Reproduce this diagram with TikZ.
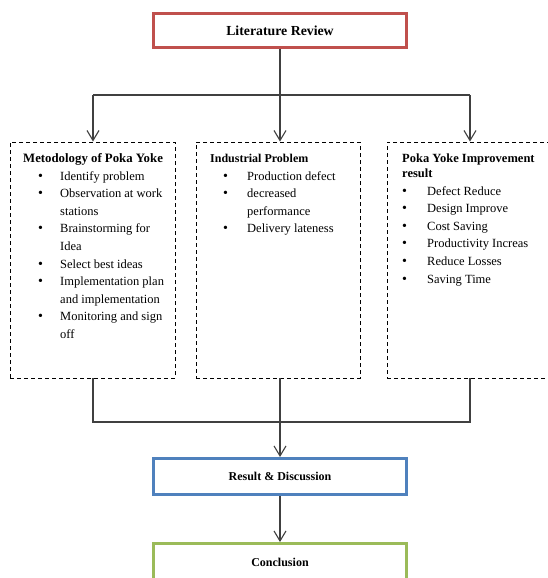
\documentclass[tikz,border=0pt]{standalone}
\usepackage{fontspec}
\setmainfont{Liberation Serif}
\usetikzlibrary{arrows.meta}
\definecolor{litred}{RGB}{192,80,77}
\definecolor{resblue}{RGB}{79,129,189}
\definecolor{congreen}{RGB}{155,187,89}
\definecolor{linegray}{RGB}{64,64,64}
\newcommand\mybul{{\fontsize{14}{14}\selectfont\textbullet}}
\tikzset{
  mainbox/.style={draw, line width=3pt, minimum width=253pt, inner sep=0pt, font=\fontsize{12}{14}\selectfont\bfseries},
  dashbox/.style={draw=black, line width=0.9pt, dash pattern=on 4pt off 3pt, minimum height=236pt, inner sep=0pt},
  content/.style={anchor=north west, inner sep=0pt, align=left, font=\fontsize{12.5}{17.6}\selectfont},
  conn/.style={draw=linegray, line width=1.1pt},
  arr/.style={conn, -{Straight Barb[length=10pt,width=12pt,line width=1.1pt]}}
}
\begin{document}
\begin{tikzpicture}[x=1pt,y=-1pt]
\useasboundingbox (0,0) rectangle (548,578);
\clip (0,0) rectangle (548,578);
\fill[white] (0,0) rectangle (548,578);

\node[mainbox, draw=litred, minimum height=34pt, font=\fontsize{13.8}{15}\selectfont\bfseries] (lit) at (280,30.5) {Literature Review};

\node[dashbox, minimum width=165pt] (bleft) at (92.5,260) {};
\node[dashbox, minimum width=164pt] (bmid) at (278,260) {};
\node[dashbox, minimum width=174pt] (bright) at (474,260) {};

\node[content] (tleft) at (23,150) {%
\begin{tabular}{@{}p{37pt}@{}l@{}}
\multicolumn{2}{@{}l@{}}{\fontsize{12.8}{17.6}\selectfont\bfseries Metodology of Poka Yoke}\\
\hspace*{15pt}\mybul & Identify problem\\
\hspace*{15pt}\mybul & Observation at work\\
 & stations\\
\hspace*{15pt}\mybul & Brainstorming for\\
 & Idea\\
\hspace*{15pt}\mybul & Select best ideas\\
\hspace*{15pt}\mybul & Implementation plan\\
 & and implementation\\
\hspace*{15pt}\mybul & Monitoring and sign\\
 & off\\
\end{tabular}};

\node[content] (tmid) at (210,150) {%
\begin{tabular}{@{}p{37pt}@{}l@{}}
\multicolumn{2}{@{}l@{}}{\fontsize{12}{17.6}\selectfont\bfseries Industrial Problem}\\
\hspace*{13pt}\mybul & Production defect\\
\hspace*{13pt}\mybul & decreased\\
 & performance\\
\hspace*{13pt}\mybul & Delivery lateness\\
\end{tabular}};

\node[content] (tright) at (402,150) {%
\begin{tabular}{@{}p{25pt}@{}l@{}}
\multicolumn{2}{@{}l@{}}{\fontsize{12.5}{17.6}\selectfont\bfseries Poka Yoke Improvement}\\[-2.6pt]
\multicolumn{2}{@{}l@{}}{\fontsize{12.5}{17.6}\selectfont\bfseries result}\\
\hspace*{0pt}\mybul & Defect Reduce\\
\hspace*{0pt}\mybul & Design Improve\\
\hspace*{0pt}\mybul & Cost Saving\\
\hspace*{0pt}\mybul & Productivity Increas\\
\hspace*{0pt}\mybul & Reduce Losses\\
\hspace*{0pt}\mybul & Saving Time\\
\end{tabular}};

\node[mainbox, draw=resblue, minimum height=36pt] (res) at (280,476.5) {Result \& Discussion};
\node[mainbox, draw=congreen, minimum height=37pt] (conc) at (280,562) {Conclusion};

\coordinate (jl) at (93,95);
\coordinate (jt) at (280,95);
\coordinate (jr) at (470,95);
\coordinate (bl) at (93,422);
\coordinate (bm) at (280,422);
\coordinate (br) at (470,422);

\draw[conn] (lit.south) -- (jt);
\draw[conn] (jl) -- (jr);
\draw[arr] (jl) -- (jl |- bleft.north);
\draw[arr] (jt) -- (jt |- bmid.north);
\draw[arr] (jr) -- (jr |- bright.north);

\draw[conn] (bl |- bleft.south) -- (bl) -- (br) -- (br |- bright.south);
\draw[arr] (bm |- bmid.south) -- (res.north);
\draw[arr] (res.south) -- (conc.north);
\end{tikzpicture}
\end{document}
